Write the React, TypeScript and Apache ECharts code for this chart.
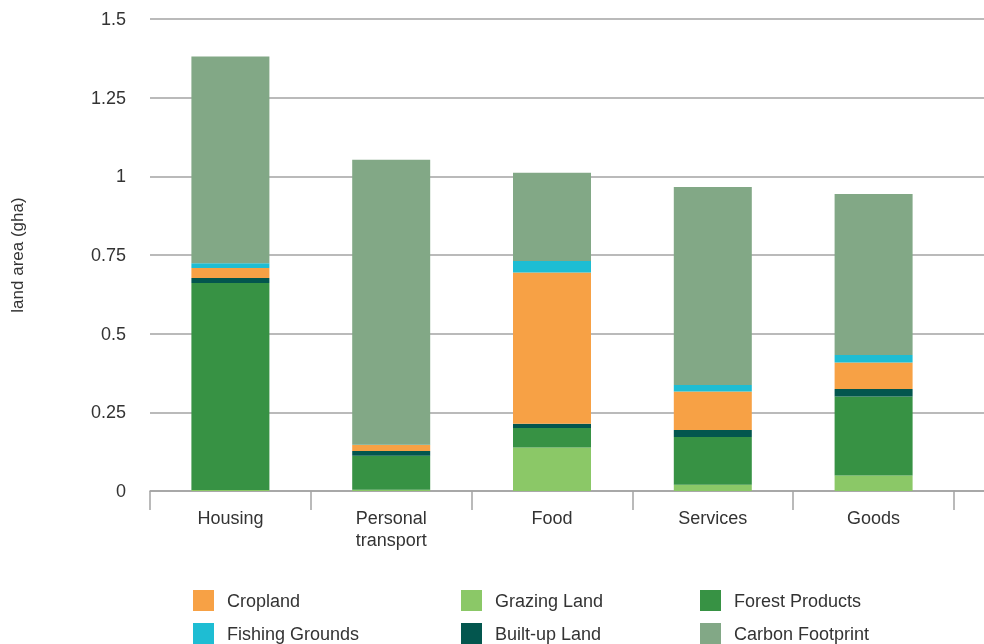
import React, { useEffect, useRef } from "react";
import * as echarts from "echarts";

const categories = ["Housing", "Personal\ntransport", "Food", "Services", "Goods"];
const grazingLand = [0.003, 0.004, 0.138, 0.02, 0.049];
const forestProducts = [0.658, 0.108, 0.062, 0.152, 0.251];
const builtUpLand = [0.016, 0.015, 0.014, 0.022, 0.024];
const cropland = [0.032, 0.019, 0.48, 0.122, 0.084];
const fishingGrounds = [0.015, 0.001, 0.037, 0.021, 0.024];
const carbonFootprint = [0.657, 0.906, 0.28, 0.629, 0.512];
const yTicks = { min: 0, max: 1.5, interval: 0.25 };

const FONT = "Liberation Sans, Arial, Helvetica, sans-serif";
const GRID_COLOR = "#a3a3a3";

export default function App() {
  const ref = useRef<HTMLDivElement>(null);
  useEffect(() => {
    if (!ref.current) return;
    const chart = echarts.init(ref.current, undefined, { renderer: "svg" });
    const mkSeries = (name: string, data: number[], color: string) => ({
      name,
      type: "bar",
      stack: "total",
      data,
      barWidth: 78,
      xAxisIndex: 0,
      yAxisIndex: 0,
      itemStyle: { color },
      emphasis: { disabled: true },
    });
    const legendBase = {
      orient: "vertical",
      top: 590,
      height: 80,
      padding: 0,
      itemWidth: 21,
      itemHeight: 21,
      itemGap: 12,
      icon: "rect",
      selectedMode: false,
      textStyle: { fontFamily: FONT, fontSize: 18, color: "#333", padding: [0, 0, 0, 8] },
    };
    chart.setOption({
      animation: false,
      textStyle: { fontFamily: FONT },
      grid: [
        { left: 150, right: 30, top: 19, bottom: 153, containLabel: false },
        { left: 954, right: 0, top: 19, bottom: 153, containLabel: false },
      ],
      legend: [
        { ...legendBase, left: 193, data: ["Cropland", "Fishing Grounds"] },
        { ...legendBase, left: 461, data: ["Grazing Land", "Built-up Land"] },
        { ...legendBase, left: 700, data: ["Forest Products", "Carbon Footprint"] },
      ],
      xAxis: [
        {
          type: "category",
          gridIndex: 0,
          data: categories,
          axisLine: { show: true, lineStyle: { color: GRID_COLOR, width: 1.5 } },
          axisTick: { show: true, interval: 0, length: 19, lineStyle: { color: GRID_COLOR, width: 1.5 } },
          axisLabel: { interval: 0, margin: 16, fontSize: 18, color: "#333", fontFamily: FONT, lineHeight: 22 },
        },
        {
          type: "value",
          gridIndex: 1,
          axisLine: { show: true, onZero: false, lineStyle: { color: GRID_COLOR, width: 1.5 } },
          axisTick: { show: false },
          axisLabel: { show: false },
          splitLine: { show: false },
        },
      ],
      yAxis: [
        {
          type: "value",
          gridIndex: 0,
          ...yTicks,
          name: "land area (gha)",
          nameLocation: "middle",
          nameGap: 124,
          nameTextStyle: { fontSize: 17, color: "#333", fontFamily: FONT },
          axisLine: { show: false },
          axisTick: { show: false },
          axisLabel: {
            margin: 24,
            fontSize: 18,
            color: "#333",
            fontFamily: FONT,
            formatter: (v: number) => String(v),
          },
          splitLine: { show: true, lineStyle: { color: GRID_COLOR, width: 1.5 } },
        },
        {
          type: "value",
          gridIndex: 1,
          ...yTicks,
          axisLine: { show: false },
          axisTick: { show: false },
          axisLabel: { show: false },
          splitLine: { show: true, lineStyle: { color: GRID_COLOR, width: 1.5 } },
        },
      ],
      series: [
        mkSeries("Grazing Land", grazingLand, "#8BC867"),
        mkSeries("Forest Products", forestProducts, "#379244"),
        mkSeries("Built-up Land", builtUpLand, "#03564E"),
        mkSeries("Cropland", cropland, "#F7A145"),
        mkSeries("Fishing Grounds", fishingGrounds, "#1EBDD3"),
        mkSeries("Carbon Footprint", carbonFootprint, "#82A886"),
        { type: "scatter", xAxisIndex: 1, yAxisIndex: 1, data: [], silent: true },
      ],
    });
    return () => chart.dispose();
  }, []);
  return <div ref={ref} style={{ position: "fixed", left: 0, top: 0, width: 984, height: 644 }} />;
}
